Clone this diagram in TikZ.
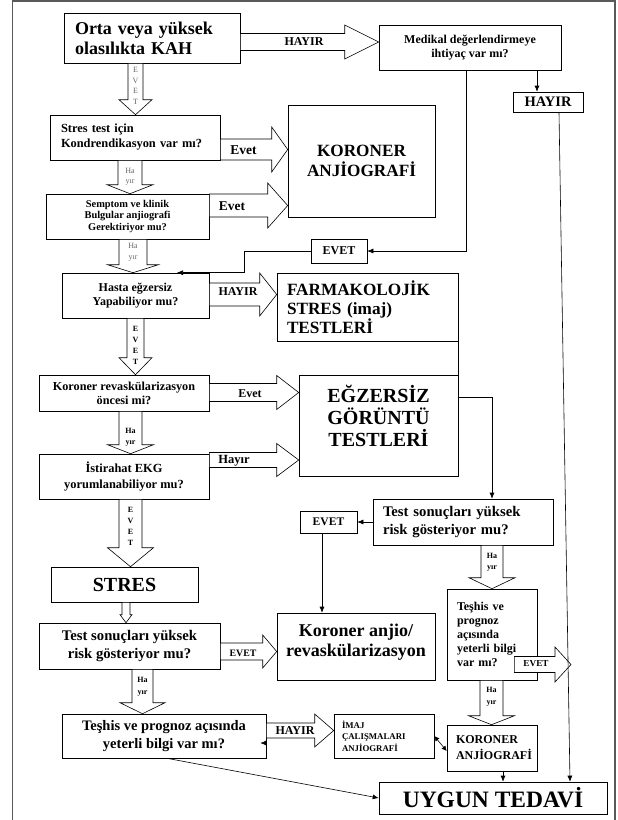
\documentclass[tikz,border=0pt]{standalone}
\usepackage{fontspec}
\setmainfont{Liberation Serif}
\usetikzlibrary{arrows.meta, calc}
\hyphenpenalty=10000

% wide white arrows, drawn between two nodes
\newcommand{\hblock}[6]{%
  \draw[blockarr] let \p1=(#1), \p2=(#2), \p3=(0,#3) in
    (\x1,\y3+#4) -- (\x2-#6,\y3+#4) -- (\x2-#6,\y3+#5) -- (\x2,\y3)
    -- (\x2-#6,\y3-#5) -- (\x2-#6,\y3-#4) -- (\x1,\y3-#4) -- cycle;}
\newcommand{\vblock}[6]{%
  \draw[blockarr] let \p1=(#1), \p2=(#2), \p3=(#3,0) in
    (\x3-#4,\y1) -- (\x3-#4,\y2+#6) -- (\x3-#5,\y2+#6) -- (\x3,\y2)
    -- (\x3+#5,\y2+#6) -- (\x3+#4,\y2+#6) -- (\x3+#4,\y1) -- cycle;}

\begin{document}
\begin{tikzpicture}[
    x=1pt, y=-1pt,
    box/.style={draw, fill=white, line width=0.6pt, inner sep=2pt, align=center},
    lbox/.style={box, align=left, inner xsep=#1},
    txt/.style 2 args={font=\bfseries\fontsize{#1}{#2}\selectfont},
    lab/.style={font=\bfseries\fontsize{#1}{#1}\selectfont, inner sep=0pt},
    vlab/.style={font=\fontsize{8}{#1}\selectfont, align=center, inner sep=0pt, text=black!60},
    vlabb/.style={vlab=#1, font=\bfseries\fontsize{8}{#1}\selectfont, text=black},
    blockarr/.style={draw, fill=white, line width=0.6pt},
    conn/.style={-{Latex[length=6pt,width=5pt]}, line width=0.6pt},
    frame/.style={draw=black!65, line width=1.6pt},
]
    \useasboundingbox (0,0) rectangle (618,820);
    \draw[frame] (12.5,820) -- (12.5,1) -- (615,1) -- (615,820);

    % Question boxes
    \node[lbox=11pt, txt={18}{20}, minimum width=176pt, minimum height=50pt, text width=154pt] (orta) at (152,38) {Orta veya yüksek\\olasılıkta KAH};
    \node[box, txt={12}{14}, minimum width=182pt, minimum height=45pt] (medikal) at (470,47.5) {Medikal değerlendirmeye\\ihtiyaç var mı?};
    \node[box, txt={14.5}{16}, minimum width=70pt, minimum height=20pt] (hayirbox) at (548,102) {HAYIR};
    \node[lbox=11pt, txt={12.4}{15}, minimum width=170pt, minimum height=45pt, text width=148pt] (stres) at (135,137.5) {Stres test için\\Kondrendikasyon var mı?};
    \node[box, txt={17.2}{20}, minimum width=147pt, minimum height=112pt] (koroner1) at (361.5,161) {KORONER\\ANJİOGRAFİ};
    \node[box, txt={10.4}{11.5}, minimum width=163pt, minimum height=45pt] (semptom) at (127.5,216.5) {Semptom ve klinik\\Bulgular anjiografi\\Gerektiriyor mu?};
    \node[box, txt={12}{14}, minimum width=56pt, minimum height=24pt] (evet1) at (339,251) {EVET};
    \node[box, txt={12}{14}, minimum width=147pt, minimum height=45pt] (hasta) at (135.5,295.5) {Hasta eğzersiz\\Yapabiliyor mu?};
    \node[lbox=10pt, txt={17.2}{19}, minimum width=181pt, minimum height=68pt, text width=161pt] (farma) at (367.5,307) {FARMAKOLOJİK\\STRES (imaj)\\TESTLERİ};
    \node[box, txt={12.2}{14}, minimum width=170pt, minimum height=36pt] (revask) at (124,393) {Koroner revaskülarizasyon\\öncesi mi?};
    \node[box, txt={20}{22}, minimum width=159pt, minimum height=101pt] (egz) at (378.5,425.5) {EĞZERSİZ\\GÖRÜNTÜ\\TESTLERİ\\[-2pt]\mbox{}};
    \node[box, txt={12.4}{16}, minimum width=170pt, minimum height=45pt] (istirahat) at (124,476.5) {İstirahat EKG\\yorumlanabiliyor mu?};
    \node[box, txt={20}{22}, minimum width=147pt, minimum height=35pt] (stresbig) at (124.5,584.5) {STRES};
    \node[lbox=10pt, txt={14.7}{18}, minimum width=180pt, minimum height=46pt, text width=160pt] (testR) at (463,522) {Test sonuçları yüksek\\risk gösteriyor mu?};
    \node[box, txt={11.6}{13}, minimum width=57pt, minimum height=22pt] (evet2) at (328.5,522) {EVET};
    \node[box, txt={14.7}{18}, minimum width=181pt, minimum height=46pt] (testL) at (129.5,646) {Test sonuçları yüksek\\risk gösteriyor mu?};
    \node[box, txt={18}{20}, minimum width=158pt, minimum height=67pt] (anjio) at (356,646.5) {Koroner anjio/\\revaskülarizasyon\\[-8pt]\mbox{}};
    \node[lbox=10pt, txt={12}{14}, minimum width=90pt, minimum height=91pt, text width=70pt] (teshisR) at (492,634.5) {Teşhis ve\\prognoz\\açısında\\yeterli bilgi\\var mı?};
    \node[box, txt={14.5}{18}, minimum width=204pt, minimum height=44pt] (teshisL) at (164,736) {Teşhis ve prognoz açısında\\yeterli bilgi var mı?};
    \node[lbox=8pt, txt={8.8}{11.5}, minimum width=100pt, minimum height=44pt, text width=84pt] (imaj) at (384,736) {İMAJ\\ÇALIŞMALARI\\ANJİOGRAFİ};
    \node[lbox=9pt, txt={12}{16}, minimum width=90pt, minimum height=46pt, text width=72pt] (koroner2) at (492,748) {KORONER\\ANJİOGRAFİ};
    \node[box, txt={23.5}{26}, minimum width=228pt, minimum height=32pt] (uygun) at (493,798) {UYGUN TEDAVİ};
    \coordinate (evetR) at (571,664.5);

    % Wide arrows
    \hblock{orta.east}{medikal.west}{42}{8.5}{17}{34}
    \vblock{orta.south}{stres.north}{135.5}{7.5}{16.5}{15}
    \hblock{stres.east}{koroner1.west}{149.5}{10.5}{22.5}{16}
    \vblock{stres.south}{semptom.north}{130}{12}{23}{9}
    \hblock{semptom.east}{koroner1.west}{205.5}{11.5}{22.5}{20}
    \vblock{semptom.south}{hasta.north}{133}{14}{25.5}{8}
    \hblock{hasta.east}{farma.west}{294.5}{11.5}{21.5}{17}
    \vblock{hasta.south}{revask.north}{135.5}{8.5}{16.5}{17}
    \hblock{revask.east}{egz.west}{392.5}{9}{17}{22}
    \vblock{revask.south}{istirahat.north}{130.5}{11.5}{23}{9}
    \hblock{istirahat.east}{egz.west}{460}{7.5}{16.5}{22}
    \vblock{istirahat.south}{stresbig.north}{130.5}{11.5}{23}{19}
    \vblock{stresbig.south}{testL.north}{126}{4}{6}{8}
    \vblock{testR.south}{teshisR.north}{492}{11}{23}{11}
    \hblock{testL.east}{anjio.west}{651.5}{8.5}{16.5}{14}
    \vblock{testL.south}{teshisL.north}{142.5}{10.5}{22.5}{11}
    \hblock{[xshift=-23pt]teshisR.east}{evetR}{664.5}{8}{17.5}{16}
    \vblock{teshisR.south}{koroner2.north}{491.5}{11.5}{23}{9}
    \hblock{teshisL.east}{imaj.west}{730.5}{7.5}{16.5}{19}

    % Thin connectors
    \draw[conn] ([xshift=67pt]medikal.south) -- ([xshift=-11pt]hayirbox.north);
    \draw[conn] ([xshift=11pt]hayirbox.south) -- ([xshift=77pt]uygun.north);
    \draw[conn] ([xshift=-4pt]medikal.south) |- (evet1.east);
    \draw[conn] (evet1.west) -- ++(-66,0) |- ([xshift=41.5pt]hasta.north);
    \draw[line width=0.6pt] (farma.south east) -- (egz.north east);
    \draw[conn] ([yshift=-23pt]egz.north east) -| ([xshift=29pt]testR.north);
    \draw[conn] (testR.west) -- (evet2.east);
    \coordinate (e2) at ([xshift=-6.5pt]evet2.south);
    \draw[conn] (e2) -- (e2 |- anjio.north);
    \coordinate (k2) at ([xshift=11pt]koroner2.south);
    \draw[conn] (k2) -- (k2 |- uygun.north);
    \draw[conn] ([xshift=3pt]teshisL.south) -- (uygun.west);
    \draw[{Latex[length=5pt,width=5pt]}-{Latex[length=5pt,width=5pt]}, line width=0.6pt] (imaj.east) -- ([yshift=-3pt]koroner2.west);
    \draw[conn] ([yshift=-7pt]teshisL.east) -- ++(-6,0);

    % Arrow labels
    \node[lab=12] (lhayir1) at (304,42) {HAYIR};
    \node[lab=13.5] (levet1) at (243.5,150) {Evet};
    \node[lab=13.4] (levet2) at (232,206) {Evet};
    \node[lab=12] (lhayir2) at (238,292) {HAYIR};
    \node[lab=12] (levet3) at (250,394) {Evet};
    \node[lab=12.5] (lhayir3) at (234,461) {Hayır};
    \node[lab=9.8] (levet4) at (243,653) {EVET};
    \node[lab=9.2] (levet5) at (536,664) {EVET};
    \node[lab=12] (lhayir4) at (295,731) {HAYIR};
    \node[vlab=10.7] (vevet1) at (135.5,86) {E\\V\\E\\T};
    \node[vlab=10] (vhayir1) at (130,177) {Ha\\yır};
    \node[vlab=11] (vhayir2) at (133,252.5) {Ha\\yır};
    \node[vlabb=11] (vevet2) at (135.5,345.5) {E\\V\\E\\T};
    \node[vlabb=11] (vhayir3) at (130.5,437.5) {Ha\\yır};
    \node[vlabb=11] (vevet3) at (130.5,526.5) {E\\V\\E\\T};
    \node[vlabb=11] (vhayir4) at (492,562.5) {Ha\\yır};
    \node[vlabb=12] (vhayir5) at (142.5,687) {Ha\\yır};
    \node[vlabb=12] (vhayir6) at (491.5,697) {Ha\\yır};
\end{tikzpicture}
\end{document}
